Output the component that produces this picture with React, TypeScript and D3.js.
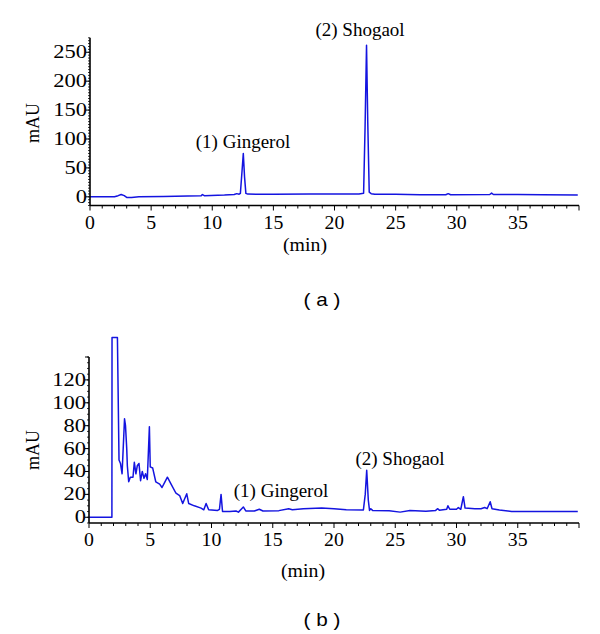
import React from 'react';
import * as d3 from 'd3';

// Chromatogram (a)
const timeA = [0, 2.0, 2.3, 2.55, 2.8, 3.0, 3.4, 4.0, 6.0, 8.0, 9.1, 9.2, 9.35, 11.0, 11.8, 12.0, 12.2, 12.3, 12.42, 12.54, 12.64, 12.75, 12.9, 15.0, 18.0, 20.0, 22.0, 22.38, 22.5, 22.62, 22.72, 22.84, 23.0, 23.3, 25.0, 27.0, 29.1, 29.3, 29.5, 32.7, 32.85, 33.0, 35.0, 37.0, 39.9];
const valueA = [0, 0, 2, 4, 2, -1, -1, 0, 0.5, 1.5, 2, 4, 2, 3, 4, 5.5, 4.5, 6, 40, 75, 35, 6, 4.7, 4.5, 5, 5, 5, 6, 120, 262, 130, 8, 5.5, 4.5, 4.5, 3.5, 3.5, 5.5, 3.5, 4, 6.5, 4, 4, 3.5, 3];

// Chromatogram (b)
const timeB = [0, 1.87, 1.88, 2.32, 2.45, 2.57, 2.7, 2.9, 2.98, 3.08, 3.13, 3.24, 3.37, 3.59, 3.7, 3.83, 3.94, 4.08, 4.21, 4.35, 4.49, 4.62, 4.76, 4.93, 5.0, 5.2, 5.45, 5.77, 5.96, 6.2, 6.4, 6.7, 7.1, 7.4, 7.65, 7.98, 8.14, 8.6, 9.15, 9.37, 9.56, 9.77, 10.5, 10.65, 10.78, 10.9, 11.5, 12.0, 12.2, 12.6, 12.8, 13.5, 13.9, 14.2, 15.5, 16.3, 16.6, 17.5, 19.0, 20.0, 21.0, 22.4, 22.55, 22.67, 22.8, 22.9, 23.0, 23.15, 24.5, 25.4, 26.2, 27.5, 28.3, 28.45, 28.6, 29.2, 29.3, 29.45, 30.0, 30.15, 30.35, 30.56, 30.7, 31.5, 32.0, 32.3, 32.5, 32.75, 32.9, 33.5, 34.5, 36.0, 38.0, 39.9];
const valueB = [0, 0, 157, 157, 50, 47, 38, 86, 80, 60, 45, 31, 35, 35, 48, 38, 45, 47, 32, 40, 34, 38, 33, 79, 44, 43, 31, 29, 26, 31, 35, 29, 21, 19, 12, 20.5, 12, 10, 8, 6.5, 12, 6.5, 6, 7, 20, 5, 5, 5.5, 4.5, 9, 5.5, 5.5, 7, 5.5, 5.8, 7.5, 6.5, 7.5, 8, 7.5, 6.5, 6.4, 20, 41, 15, 6, 7.5, 6, 5.8, 4.5, 6, 5.2, 6, 7.5, 6.2, 7, 10, 7, 7, 8.5, 7, 18, 8, 7.5, 7.5, 8.5, 7.5, 13.6, 7.5, 6.4, 5, 5, 5, 5];

const xTickValues = [0, 5, 10, 15, 20, 25, 30, 35];
const yTicksA = [0, 50, 100, 150, 200, 250];
const yTicksB = [0, 20, 40, 60, 80, 100, 120];

const LINE = '#1414e0';
const SERIF = '"Liberation Serif", "Times New Roman", serif';
const SANS = '"Liberation Sans", Arial, sans-serif';

type PanelProps = {
  times: number[];
  values: number[];
  yDomain: [number, number];
  xRange: [number, number];
  yRange: [number, number];
  yTicks: number[];
  yMajorEvery: number;
  yMinorStep: number;
  labels: { text: string; x: number; y: number }[];
  minPos: [number, number];
  mauPos: [number, number];
  caption: string;
  captionY: number;
};

function Panel(p: PanelProps) {
  const x = d3.scaleLinear().domain([0, 40]).range(p.xRange);
  const y = d3.scaleLinear().domain(p.yDomain).range(p.yRange);
  const pts = p.times.map((t, i) => [t, p.values[i]] as [number, number]);
  const line = d3.line<[number, number]>().x(d => x(d[0])).y(d => y(d[1]));
  const x0 = p.xRange[0];
  const yb = p.yRange[0];
  const minorX = d3.range(0, 41, 1);
  const minorY = d3.range(Math.ceil(p.yDomain[0] / p.yMinorStep) * p.yMinorStep, p.yDomain[1] + 0.01, p.yMinorStep);
  const majorY = d3.range(0, p.yDomain[1] + 0.01, p.yMajorEvery);
  return (
    <g>
      <path d={line(pts) || ''} fill="none" stroke={LINE} strokeWidth={1.5} strokeLinejoin="round" />
      <line x1={x0} x2={p.xRange[1]} y1={yb} y2={yb} stroke="#000" strokeWidth={1.6} />
      <line x1={x0} x2={x0} y1={yb} y2={p.yRange[1]} stroke="#000" strokeWidth={1.6} />
      {minorX.map(v => (
        <line key={'mx' + v} x1={x(v)} x2={x(v)} y1={yb} y2={yb + (v % 5 === 0 ? 5 : 3)} stroke="#000" strokeWidth={1} />
      ))}
      {minorY.map(v => (
        <line key={'my' + v} x1={x0} x2={x0 - 2} y1={y(v)} y2={y(v)} stroke="#000" strokeWidth={0.8} />
      ))}
      {majorY.map(v => (
        <line key={'My' + v} x1={x0} x2={x0 - 4} y1={y(v)} y2={y(v)} stroke="#000" strokeWidth={1} />
      ))}
      {xTickValues.map(v => (
        <text key={'xl' + v} transform={`translate(${x(v)},${yb + 23}) scale(1.1,1)`} textAnchor="middle" fontFamily={SERIF} fontSize={18}>{v}</text>
      ))}
      {p.yTicks.map(v => (
        <text key={'yl' + v} transform={`translate(${x0 - 3},${y(v) + 6}) scale(1.25,1)`} textAnchor="end" fontFamily={SERIF} fontSize={18}>{v}</text>
      ))}
      <text transform={`translate(${p.mauPos[0]},${p.mauPos[1]}) rotate(-90)`} textAnchor="middle" fontFamily={SERIF} fontSize={18}>mAU</text>
      <text transform={`translate(${p.minPos[0]},${p.minPos[1]}) scale(1.1,1)`} textAnchor="middle" fontFamily={SERIF} fontSize={18}>(min)</text>
      {p.labels.map(l => (
        <text key={l.text} x={l.x} y={l.y} textAnchor="middle" fontFamily={SERIF} fontSize={19}>{l.text}</text>
      ))}
      <text transform={`translate(322,${p.captionY}) scale(1.15,1)`} textAnchor="middle" fontFamily={SANS} fontSize={18} xmlSpace="preserve">{p.caption}</text>
    </g>
  );
}

export default function App() {
  return (
    <svg width={600} height={634} style={{ position: 'absolute', left: 0, top: 0, background: '#fff' }}>
      <rect width={600} height={634} fill="#fff" />
      <Panel
        times={timeA}
        values={valueA}
        yDomain={[-15, 275]}
        xRange={[90, 579]}
        yRange={[205.5, 37.8]}
        yTicks={yTicksA}
        yMajorEvery={50}
        yMinorStep={5}
        labels={[{ text: '(1) Gingerol', x: 243, y: 148 }, { text: '(2) Shogaol', x: 360, y: 36 }]}
        minPos={[305, 251]}
        mauPos={[39, 123]}
        caption="( a )"
        captionY={306}
      />
      <Panel
        times={timeB}
        values={valueB}
        yDomain={[-5, 140]}
        xRange={[89, 579]}
        yRange={[523, 357]}
        yTicks={yTicksB}
        yMajorEvery={20}
        yMinorStep={5}
        labels={[{ text: '(1) Gingerol', x: 281, y: 497 }, { text: '(2) Shogaol', x: 400, y: 465 }]}
        minPos={[303, 577]}
        mauPos={[39, 450]}
        caption="( b )"
        captionY={626}
      />
    </svg>
  );
}
